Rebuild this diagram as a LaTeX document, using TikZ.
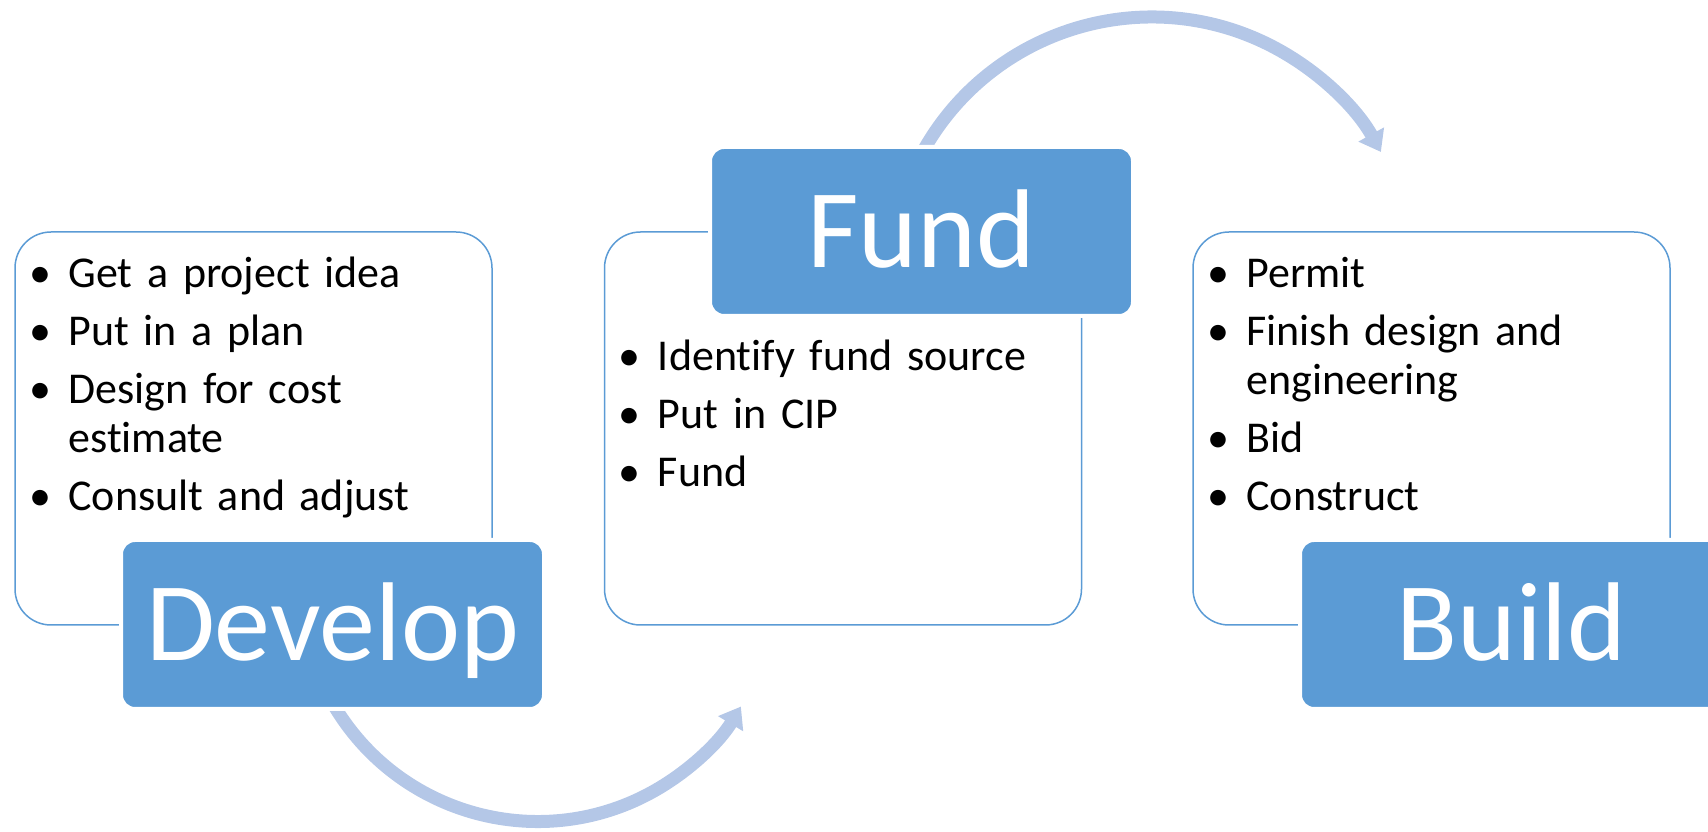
\documentclass[tikz,border=0pt]{standalone}
\usepackage{fontspec}
\setmainfont{Carlito}[Ligatures=NoCommon]
\usetikzlibrary{arrows.meta,backgrounds}
\definecolor{boxblue}{HTML}{5B9BD5}
\definecolor{arcblue}{HTML}{B4C7E7}
\newcommand{\bul}[1]{\hyphenpenalty=10000\relax\hangindent=54pt\hangafter=1\makebox[54pt][l]{\hspace{15pt}\textbullet}#1\par\vspace{8.5pt}}
\tikzset{
  listbox/.style={draw=boxblue, line width=1.5, rounded corners=36, minimum width=477, minimum height=393, inner sep=0},
  stagebox/.style={fill=boxblue, draw=white, line width=4, rounded corners=14, minimum width=423, minimum height=169, inner sep=0,
    text=white, font=\fontsize{112}{134}\selectfont, text height=72, text depth=0},
  itemtext/.style={anchor=base west, inner sep=0, text width=460, align=left, font=\fontsize{44}{49.5}\selectfont},
  cyclearrow/.style={draw=arcblue, line width=13, -{Triangle[width=28pt, length=20pt]}}
}
\begin{document}
\begin{tikzpicture}[x=1pt,y=1pt]
\useasboundingbox (0,0) rectangle (1708,832);

% white boxes with the steps
\node[listbox] (devlist) at (253.5,403.5) {};
\node[listbox] (fundlist) at (843,403.5) {};
\node[listbox] (buildlist) at (1431.5,403.5) {};

\node[itemtext] (devitems) at ([yshift=-56]devlist.north west)
  {\bul{Get a project idea}\bul{Put in a plan}\bul{Design for cost estimate}\bul{Consult and adjust}};
\node[itemtext] (funditems) at ([yshift=-139]fundlist.north west)
  {\bul{Identify fund source}\bul{Put in CIP}\bul{Fund}};
\node[itemtext] (builditems) at ([yshift=-56]buildlist.north west)
  {\bul{Permit}\bul{Finish design and engineering}\bul{Bid}\bul{Construct}};

% stage labels
\node[stagebox] (develop) at (332.5,207.5) {Develop};
\node[stagebox] (fund) at (921.5,600.5) {Fund};
\node[stagebox] (build) at (1511.5,207.5) {Build};

% arrows between the stages
\begin{scope}[on background layer]
\draw[cyclearrow] ([yshift=8]develop.south) arc[start angle=210, end angle=329, radius=237];
\draw[cyclearrow] ([yshift=-9]fund.north) arc[start angle=151.5, end angle=29, radius=262];
\end{scope}
\end{tikzpicture}
\end{document}
